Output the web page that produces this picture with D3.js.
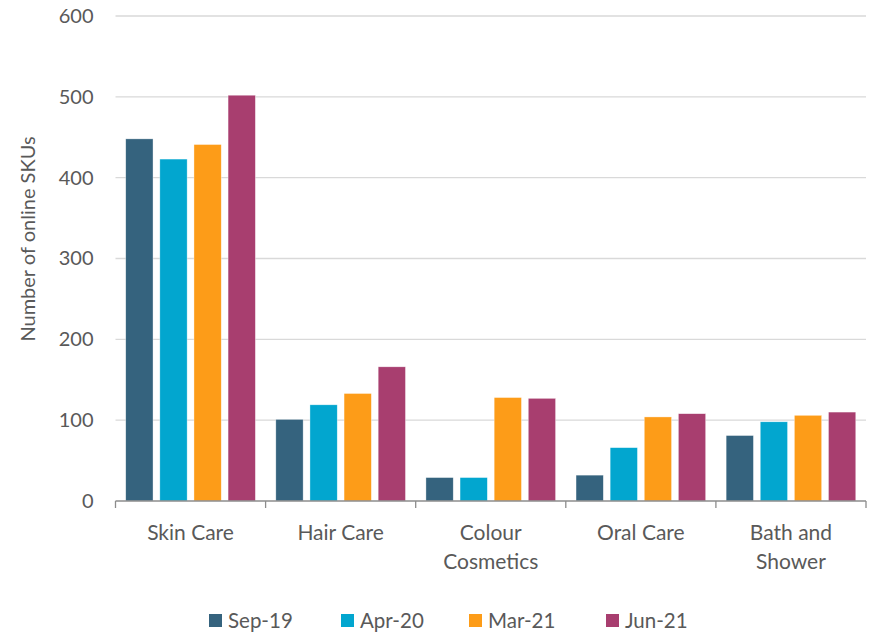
<!DOCTYPE html>
<html>
<head>
<meta charset="utf-8">
<script src="https://cdn.jsdelivr.net/npm/d3@7"></script>
<style>
  html, body { margin: 0; padding: 0; background: #fff; }
  svg { display: block; font-family: Lato, "Open Sans", sans-serif; }
</style>
</head>
<body>
<svg id="chart" width="871" height="634"></svg>
<script>
// Online SKU counts per category, for each survey date
const categories = ["Skin Care", "Hair Care", "Colour Cosmetics", "Oral Care", "Bath and Shower"];
const categoryLines = [["Skin Care"], ["Hair Care"], ["Colour", "Cosmetics"], ["Oral Care"], ["Bath and", "Shower"]];
const seriesNames = ["Sep-19", "Apr-20", "Mar-21", "Jun-21"];
const sep19 = [448, 101, 29, 32, 81];
const apr20 = [423, 119, 29, 66, 98];
const mar21 = [441, 133, 128, 104, 106];
const jun21 = [502, 166, 127, 108, 110];
const seriesValues = [sep19, apr20, mar21, jun21];
const colors = ["#35637E", "#02A6CF", "#FD9C18", "#A83E6F"];
const yTicks = [0, 100, 200, 300, 400, 500, 600];

const svg = d3.select("#chart");
const margin = { left: 115.5, right: 5, top: 16, bottom: 133 };
const W = 871, H = 634;
const plotW = W - margin.left - margin.right;
const plotH = H - margin.top - margin.bottom;
const textColor = "#595959";

const g = svg.append("g").attr("transform", `translate(${margin.left},${margin.top})`);

const x0 = d3.scaleBand().domain(categories).range([0, plotW]).padding(0);
const x1 = d3.scaleBand().domain(seriesNames).range([0, x0.bandwidth()])
  .paddingInner(0.2).paddingOuter(0.3);
const y = d3.scaleLinear().domain([0, 600]).range([plotH, 0]);

// horizontal gridlines
g.append("g")
  .selectAll("line")
  .data(yTicks.filter(t => t > 0))
  .join("line")
  .attr("x1", 0).attr("x2", plotW)
  .attr("y1", d => y(d)).attr("y2", d => y(d))
  .attr("stroke", "#D9D9D9").attr("stroke-width", 1.3);

// y axis tick labels
const yAxis = g.append("g").call(d3.axisLeft(y).tickValues(yTicks).tickSize(0).tickPadding(22));
yAxis.select(".domain").remove();
yAxis.selectAll("text").attr("fill", textColor).style("font-size", "20px").style("font-family", "Lato, sans-serif");

// bars
const rows = categories.map((c, i) => ({ cat: c, vals: seriesNames.map((s, j) => ({ s, v: seriesValues[j][i], c: colors[j] })) }));
g.append("g")
  .selectAll("g")
  .data(rows)
  .join("g")
  .attr("transform", d => `translate(${x0(d.cat)},0)`)
  .selectAll("rect")
  .data(d => d.vals)
  .join("rect")
  .attr("x", d => x1(d.s))
  .attr("width", x1.bandwidth())
  .attr("y", d => y(d.v))
  .attr("height", d => y(0) - y(d.v))
  .attr("fill", d => d.c)
  .attr("stroke", "#fff").attr("stroke-width", 0.6).attr("stroke-opacity", 0.6);

// bottom axis line with category boundary ticks
g.append("line")
  .attr("x1", 0).attr("x2", plotW)
  .attr("y1", y(0)).attr("y2", y(0))
  .attr("stroke", "#8C8C8C").attr("stroke-width", 1.3);
g.append("g")
  .selectAll("line")
  .data(categories.map(c => x0(c)).concat([plotW]))
  .join("line")
  .attr("x1", d => d).attr("x2", d => d)
  .attr("y1", y(0)).attr("y2", y(0) + 7)
  .attr("stroke", "#8C8C8C").attr("stroke-width", 1.3);

// category labels
const xl = g.append("g");
categories.forEach((c, i) => {
  const t = xl.append("text")
    .attr("x", x0(c) + x0.bandwidth() / 2)
    .attr("y", y(0) + 39)
    .attr("text-anchor", "middle")
    .attr("fill", textColor)
    .style("font-size", "21px");
  categoryLines[i].forEach((line, k) => {
    t.append("tspan").attr("x", x0(c) + x0.bandwidth() / 2).attr("dy", k === 0 ? 0 : 29).text(line);
  });
});

// y axis title
svg.append("text")
  .attr("transform", `translate(35,239) rotate(-90)`)
  .attr("text-anchor", "middle")
  .attr("fill", textColor)
  .style("font-size", "20px")
  .text("Number of online SKUs");

// legend
const legendX = [209, 341, 469, 606];
const lg = svg.append("g");
seriesNames.forEach((s, i) => {
  lg.append("rect").attr("x", legendX[i]).attr("y", 614).attr("width", 13).attr("height", 13).attr("fill", colors[i]);
  lg.append("text").attr("x", legendX[i] + 19).attr("y", 628)
    .attr("fill", textColor).style("font-size", "20.5px").text(s);
});
</script>
</body>
</html>
